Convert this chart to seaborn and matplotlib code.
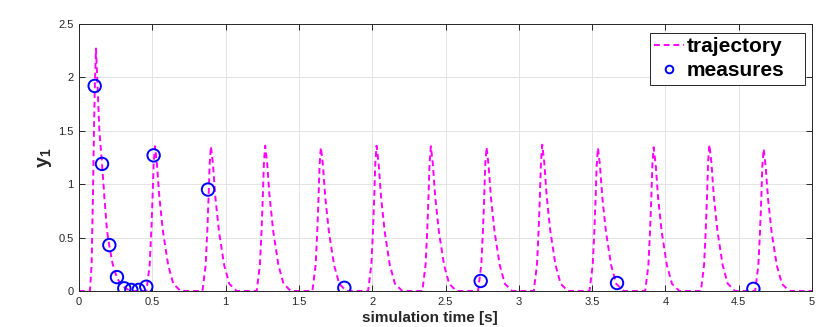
import matplotlib
matplotlib.use("Agg")
import matplotlib.pyplot as plt
import seaborn as sns
from matplotlib.lines import Line2D

# === Data ===
# first (tall) spike, absolute times / values
first_t = [0.0, 0.075, 0.086, 0.095, 0.102, 0.109, 0.116, 0.125, 0.139, 0.157,
           0.173, 0.191, 0.207, 0.23, 0.257, 0.29, 0.35]
first_y = [0.0, 0.0, 0.25, 0.88, 1.5, 1.97, 2.27, 1.97, 1.5, 1.19,
           0.88, 0.565, 0.42, 0.25, 0.13, 0.05, 0.0]

# later spikes: peak time / height
peak_times = [0.518, 0.90, 1.27, 1.65, 2.03, 2.40, 2.78, 3.16, 3.54, 3.92, 4.30, 4.67]
peak_heights = [1.355, 1.355, 1.36, 1.345, 1.36, 1.355, 1.345, 1.37, 1.34, 1.345, 1.37, 1.33]

# shape of one regular spike (offset from peak, fraction of peak height)
spike_dt = [-0.058, -0.036, -0.025, -0.016, -0.009, 0.0, 0.014, 0.03, 0.055, 0.09, 0.125, 0.175]
spike_rel = [0.0, 0.18, 0.41, 0.65, 0.875, 1.0, 0.875, 0.65, 0.41, 0.18, 0.05, 0.0]

# measurements
meas_t = [0.107, 0.157, 0.207, 0.259, 0.309, 0.357, 0.407, 0.459, 0.509,
          0.88, 1.81, 2.74, 3.67, 4.60]
meas_y = [1.92, 1.19, 0.43, 0.13, 0.025, 0.01, 0.01, 0.04, 1.27,
          0.95, 0.03, 0.094, 0.075, 0.02]

# === Build trajectory ===
traj_t = list(first_t)
traj_y = list(first_y)
for pt, ph in zip(peak_times, peak_heights):
    for dt, r in zip(spike_dt, spike_rel):
        traj_t.append(pt + dt)
        traj_y.append(ph * r)
traj_t.append(5.0)
traj_y.append(0.0)

# === Style ===
sns.set_theme(style="white")
plt.rcParams["font.family"] = ["Liberation Sans", "DejaVu Sans"]
plt.rcParams["mathtext.fontset"] = "custom"
plt.rcParams["mathtext.bf"] = "Liberation Sans:bold"
plt.rcParams["mathtext.rm"] = "Liberation Sans:bold"
plt.rcParams["mathtext.it"] = "Liberation Sans:bold"

fig = plt.figure(figsize=(8.3, 3.27), dpi=100)
ax = fig.add_axes([79 / 830, 1 - 291 / 327, (812 - 79) / 830, (291 - 24) / 327])

sns.lineplot(x=traj_t, y=traj_y, ax=ax, sort=False, estimator=None,
             color="#FF00FF", linewidth=1.4, linestyle=(0, (3, 2)))
sns.scatterplot(x=meas_t, y=meas_y, ax=ax, s=80, facecolor="none",
                edgecolor="#0000FF", linewidth=1.4, zorder=3)

ax.set_xlim(0, 5)
ax.set_ylim(0, 2.5)
ax.set_xticks([0, 0.5, 1, 1.5, 2, 2.5, 3, 3.5, 4, 4.5, 5])
ax.set_xticklabels(["0", "0.5", "1", "1.5", "2", "2.5", "3", "3.5", "4", "4.5", "5"])
ax.set_yticks([0, 0.5, 1, 1.5, 2, 2.5])
ax.set_yticklabels(["0", "0.5", "1", "1.5", "2", "2.5"])

ax.grid(True, color="#e3e3e3", linewidth=0.7)
ax.set_axisbelow(True)
for s in ax.spines.values():
    s.set_color("#262626")
    s.set_linewidth(0.7)
ax.tick_params(direction="in", length=4, width=0.7, colors="#262626",
               labelsize=8, top=True, right=True, bottom=True, left=True,
               labeltop=False, labelright=False, pad=4)

ax.set_xlabel("simulation time [s]", fontsize=11, fontweight="bold",
              color="#262626", labelpad=2)
ax.xaxis.set_label_coords((430 - 79) / 733, -0.075)
ax.set_ylabel(r"$\mathbf{y_1}$", fontsize=14, color="#262626", labelpad=3)

handles = [
    Line2D([], [], color="#FF00FF", linewidth=1.4, linestyle=(0, (3, 2))),
    Line2D([], [], color="#0000FF", marker="o", markersize=5.5, linestyle="none",
           markerfacecolor="none", markeredgewidth=1.4),
]
leg = ax.legend(handles, ["trajectory", "measures"], loc="upper right",
                bbox_to_anchor=(650 / 830, 1 - 85 / 327, 155 / 830, 52 / 327),
                bbox_transform=fig.transFigure, mode="expand",
                borderaxespad=0, fancybox=False, framealpha=1, handlelength=1.45,
                handletextpad=0.1, labelspacing=0.25, borderpad=0.2,
                prop={"size": 15, "weight": "bold"})
leg.get_frame().set_edgecolor("#262626")
leg.get_frame().set_linewidth(0.7)
for txt in leg.get_texts():
    txt.set_color("black")

fig.savefig("out.png", dpi=100)
